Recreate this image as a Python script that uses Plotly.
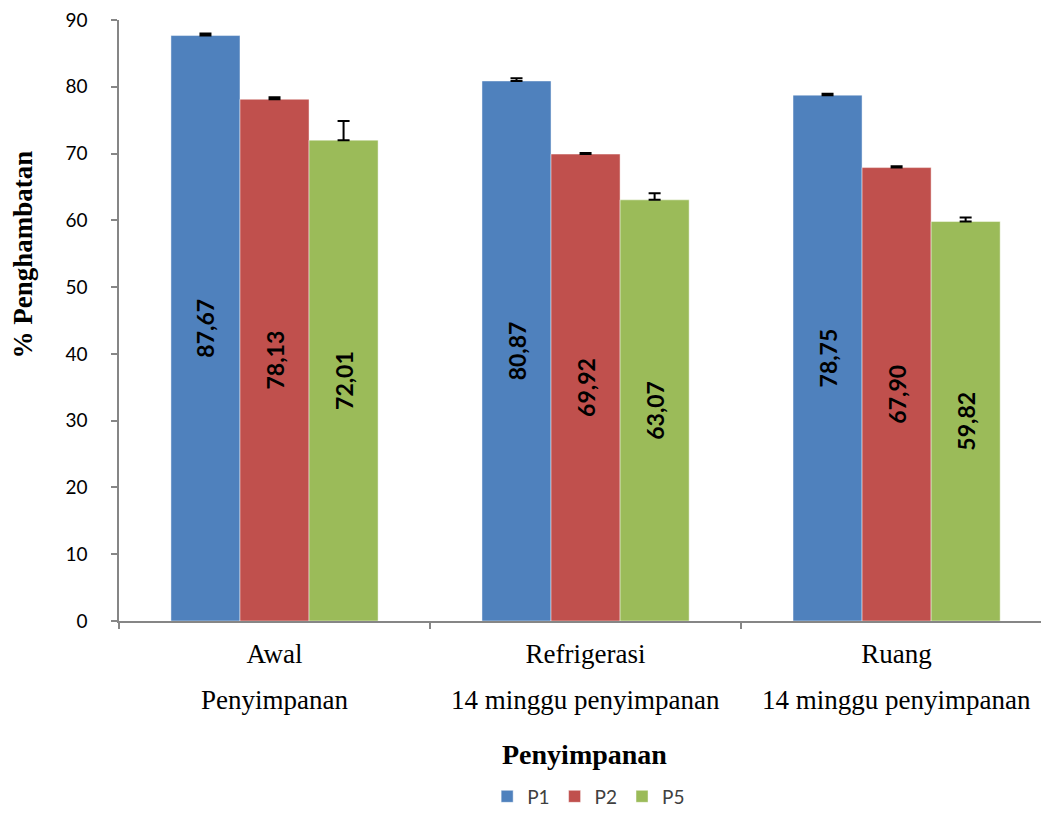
import plotly.graph_objects as go

categories = ["Awal", "Refrigerasi", "Ruang"]
subtitles = ["Penyimpanan", "14 minggu penyimpanan", "14 minggu penyimpanan"]
series_names = ["P1", "P2", "P5"]
p1 = [87.67, 80.87, 78.75]
p2 = [78.13, 69.92, 67.90]
p5 = [72.01, 63.07, 59.82]
p1_err = [0.3, 0.4, 0.2]
p2_err = [0.3, 0.15, 0.2]
p5_err = [2.85, 1.0, 0.6]
y_ticks = [0, 10, 20, 30, 40, 50, 60, 70, 80, 90]

colors = ["#4F81BD", "#C0504D", "#9BBB59"]
values = [p1, p2, p5]
errors = [p1_err, p2_err, p5_err]

fig = go.Figure()
for name, vals, errs, col in zip(series_names, values, errors, colors):
    fig.add_trace(go.Bar(
        name=name,
        x=categories,
        y=vals,
        marker=dict(color=col, line=dict(color="rgba(255,255,255,0.45)", width=1)),
        error_y=dict(type="data", array=errs, arrayminus=[0] * len(errs), symmetric=False,
                     color="black", thickness=2, width=6),
        text=[f"{v:.2f}".replace(".", ",") for v in vals],
        textposition="inside",
        insidetextanchor="middle",
        textangle=-90,
        textfont=dict(family="Lato", size=23, color="black", weight="bold"),
        cliponaxis=False,
    ))

axis_gray = "#868686"
fig.update_layout(
    width=1049, height=815,
    margin=dict(l=111, r=8, t=12, b=199),
    paper_bgcolor="white", plot_bgcolor="white",
    barmode="group", bargap=0.334, bargroupgap=0,
    showlegend=True,
    legend=dict(orientation="h", x=0.505, xanchor="center", y=-0.292, yanchor="middle",
                font=dict(family="Lato", size=19, color="#404040"),
                itemwidth=30, traceorder="normal"),
    xaxis=dict(
        range=[-0.5, 2.49],
        showline=True, linecolor=axis_gray, linewidth=1.5,
        ticks="outside", ticklen=6, tickcolor=axis_gray, tickwidth=1.5,
        tickson="boundaries",
        tickfont=dict(family="Liberation Serif", size=27, color="black"),
        ticklabelstandoff=8,
        showgrid=False, zeroline=False,
    ),
    yaxis=dict(
        range=[0, 90], tickvals=y_ticks,
        showline=True, linecolor=axis_gray, linewidth=1.5,
        ticks="outside", ticklen=6, tickcolor=axis_gray, tickwidth=1.5,
        tickfont=dict(family="Lato", size=19, color="black"),
        ticklabelstandoff=20, ticklabeloverflow="allow",
        showgrid=False, zeroline=False, automargin=False,
    ),
)

annotations = []
for cat, sub in zip(categories, subtitles):
    annotations.append(dict(
        x=cat, xref="x", y=0, yref="paper", yanchor="middle", yshift=-79,
        text=sub, showarrow=False,
        font=dict(family="Liberation Serif", size=27, color="black"),
    ))
annotations.append(dict(
    x=0.5, xref="paper", y=0, yref="paper", yanchor="middle", yshift=-133,
    text="<b>Penyimpanan</b>", showarrow=False,
    font=dict(family="Liberation Serif", size=28, color="black"),
))
annotations.append(dict(
    x=-0.103, xref="paper", xanchor="center", y=0.61, yref="paper", yanchor="middle",
    text="<b>% Penghambatan</b>", textangle=-90, showarrow=False,
    font=dict(family="Liberation Serif", size=27, color="black"),
))
fig.update_layout(annotations=annotations)

fig.write_html("out.html")
